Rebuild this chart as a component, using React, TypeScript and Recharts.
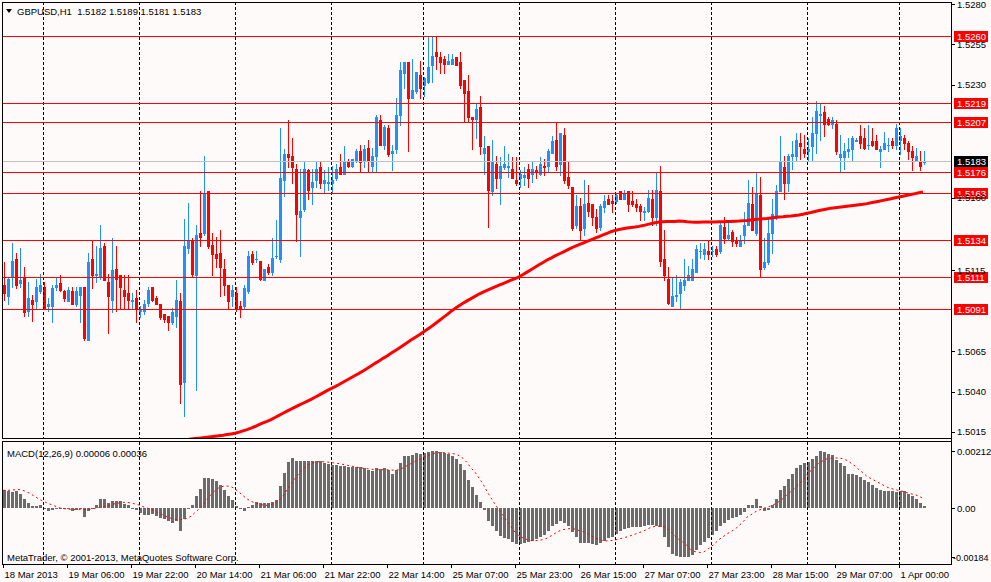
import { ComposedChart, Bar, Line, XAxis, YAxis, ReferenceLine } from "recharts";

const W = 991;
const BULL = "#1e90ff";
const BEAR = "#ff0000";
const BG = "#fffafa";
const HIST = "#6b6b6b";
const FONT = '"Liberation Sans", Arial, sans-serif';
const FS = 9.5;

// GBPUSD H1, 18 Mar 14:00 .. 1 Apr 06:00, prices in pips above 1.5000
const BASE = 1.5;
const PIP = 0.0001;

const opens = [
  106, 99, 111, 122, 107, 111, 90, 97, 96, 102,
  105, 93, 93, 105, 107, 102, 96, 102, 94, 100,
  105, 72, 122, 112, 111, 130, 108, 97, 116, 112,
  103, 101, 96, 98, 90, 90, 95, 105, 98, 94,
  88, 87, 83, 87, 96, 46, 129, 134, 112, 138,
  138, 164, 131, 125, 126, 116, 106, 99, 101, 93,
  93, 102, 125, 122, 121, 109, 117, 114, 124, 122,
  171, 187, 186, 178, 148, 153, 177, 167, 171, 179,
  169, 169, 169, 172, 179, 175, 182, 180, 183, 189,
  183, 191, 180, 186, 208, 193, 203, 188, 190, 211,
  237, 244, 222, 226, 236, 230, 232, 242, 250, 247,
  246, 243, 243, 247, 244, 233, 226, 210, 209, 216,
  188, 192, 164, 181, 172, 179, 179, 178, 171, 172,
  173, 178, 175, 177, 175, 180, 180, 188, 196, 181,
  199, 173, 167, 143, 155, 141, 157, 156, 148, 142,
  154, 159, 158, 158, 164, 159, 164, 158, 156, 155,
  151, 152, 159, 148, 164, 122, 110, 93, 99, 101,
  106, 109, 109, 114, 127, 125, 127, 127, 128, 127,
  142, 135, 139, 134, 130, 137, 143, 156, 138, 162,
  117, 120, 138, 148, 164, 179, 169, 186, 186, 194,
  190, 189, 192, 200, 211, 213, 209, 206, 206, 185,
  185, 189, 190, 195, 198, 197, 193, 195, 195, 189,
  190, 193, 195, 193, 196, 197, 194, 189, 183, 183,
  182,
];
const highs = [
  120, 111, 132, 126, 129, 117, 108, 100, 110, 113,
  108, 98, 106, 111, 112, 103, 105, 105, 105, 105,
  105, 126, 134, 130, 143, 132, 113, 135, 130, 112,
  112, 112, 101, 103, 93, 97, 105, 105, 99, 94,
  88, 87, 92, 109, 101, 147, 157, 135, 143, 164,
  186, 164, 138, 136, 140, 122, 106, 106, 105, 96,
  106, 127, 127, 127, 121, 116, 119, 135, 146, 203,
  190, 208, 197, 181, 178, 183, 178, 178, 183, 182,
  177, 179, 180, 181, 187, 192, 184, 184, 190, 193,
  193, 196, 191, 211, 211, 205, 205, 193, 222, 244,
  244, 244, 246, 238, 245, 235, 260, 260, 260, 250,
  248, 249, 249, 247, 250, 233, 236, 210, 218, 223,
  198, 192, 196, 186, 185, 192, 187, 185, 185, 177,
  179, 181, 182, 180, 185, 184, 190, 198, 207, 200,
  203, 182, 167, 162, 160, 171, 168, 156, 153, 156,
  162, 162, 162, 163, 164, 165, 164, 164, 159, 156,
  154, 165, 165, 176, 180, 140, 117, 111, 112, 110,
  122, 118, 122, 131, 132, 132, 134, 130, 130, 145,
  148, 145, 140, 136, 137, 151, 171, 167, 176, 173,
  135, 148, 159, 168, 198, 186, 187, 195, 200, 200,
  199, 197, 210, 220, 218, 217, 210, 210, 208, 199,
  194, 197, 198, 197, 205, 203, 205, 203, 199, 192,
  201, 197, 197, 206, 203, 199, 195, 192, 191, 189,
  189,
];
const lows = [
  97, 94, 105, 104, 105, 87, 87, 84, 92, 101,
  91, 90, 83, 103, 102, 96, 96, 94, 93, 83,
  72, 72, 104, 108, 110, 109, 76, 89, 90, 91,
  91, 91, 91, 83, 86, 88, 93, 96, 94, 85,
  83, 78, 82, 80, 33, 25, 126, 111, 41, 130,
  137, 129, 112, 117, 99, 100, 91, 93, 90, 86,
  91, 101, 119, 120, 109, 109, 113, 112, 123, 120,
  161, 179, 169, 133, 124, 152, 159, 156, 167, 166,
  163, 165, 163, 171, 175, 175, 179, 179, 182, 176,
  179, 176, 176, 176, 193, 190, 186, 177, 188, 205,
  228, 189, 222, 225, 222, 223, 231, 232, 240, 237,
  237, 243, 243, 242, 228, 207, 207, 190, 197, 187,
  175, 142, 162, 166, 156, 178, 173, 172, 168, 167,
  168, 167, 170, 172, 174, 174, 176, 188, 177, 174,
  169, 166, 140, 141, 134, 137, 149, 143, 139, 140,
  151, 156, 151, 157, 159, 159, 152, 155, 152, 146,
  146, 151, 143, 143, 118, 109, 94, 93, 96, 91,
  103, 109, 109, 114, 123, 122, 122, 124, 124, 126,
  132, 134, 130, 130, 130, 132, 143, 140, 137, 111,
  116, 119, 126, 147, 164, 159, 164, 178, 183, 184,
  185, 183, 183, 188, 196, 198, 205, 203, 187, 176,
  178, 185, 183, 195, 191, 190, 190, 192, 190, 179,
  190, 189, 191, 190, 187, 190, 184, 177, 183, 177,
  181,
];
const closes = [
  101, 110, 121, 106, 109, 89, 98, 94, 105, 106,
  92, 94, 104, 106, 103, 98, 103, 94, 102, 105,
  73, 120, 112, 113, 129, 109, 99, 115, 110, 105,
  99, 97, 97, 92, 91, 94, 103, 97, 94, 86,
  85, 83, 89, 97, 45, 130, 134, 113, 137, 136,
  163, 130, 125, 123, 117, 106, 96, 103, 91, 91,
  104, 124, 120, 122, 110, 116, 114, 123, 124, 172,
  187, 185, 179, 150, 152, 178, 165, 170, 178, 169,
  171, 170, 171, 178, 175, 183, 180, 184, 189, 182,
  190, 183, 186, 210, 193, 204, 187, 189, 211, 239,
  244, 222, 227, 238, 228, 234, 241, 248, 248, 244,
  243, 245, 246, 242, 230, 225, 210, 209, 215, 192,
  191, 165, 182, 172, 180, 181, 180, 172, 169, 175,
  174, 172, 178, 176, 181, 179, 189, 195, 180, 200,
  171, 168, 141, 155, 140, 156, 152, 148, 141, 155,
  158, 156, 157, 162, 159, 163, 156, 156, 154, 152,
  152, 160, 148, 165, 121, 112, 95, 99, 100, 108,
  109, 112, 116, 128, 127, 128, 125, 127, 125, 143,
  135, 137, 133, 132, 134, 143, 157, 140, 163, 116,
  120, 138, 150, 164, 182, 169, 186, 187, 196, 192,
  188, 190, 200, 214, 212, 206, 206, 208, 189, 187,
  189, 190, 197, 196, 194, 191, 193, 193, 190, 190,
  194, 193, 193, 203, 198, 194, 189, 185, 186, 180,
  183,
];

// moving average, visible from bar 46 on (pips above 1.5000)
const maStart = 46;
const maValues = [
  10.3, 10.6, 10.9, 11.2, 11.5, 11.8, 12.1, 12.4, 12.7, 13.0,
  13.4, 13.8, 14.2, 14.9, 15.7, 16.5, 17.4, 18.4, 19.5, 20.6,
  21.6, 22.7, 24.0, 25.3, 26.6, 27.9, 29.2, 30.4, 31.6, 32.8,
  34.0, 35.2, 36.5, 37.8, 39.2, 40.6, 41.9, 43.1, 44.4, 45.8,
  47.2, 48.6, 50.0, 51.3, 52.8, 54.3, 55.9, 57.5, 59.0, 60.6,
  62.1, 63.7, 65.3, 66.9, 68.6, 70.3, 71.9, 73.5, 75.1, 76.8,
  78.5, 80.2, 82.0, 83.9, 85.8, 87.7, 89.7, 91.5, 93.1, 94.7,
  96.2, 97.6, 99.0, 100.4, 101.6, 102.7, 103.8, 104.8, 105.9, 106.9,
  108.0, 109.0, 110.0, 111.0, 112.5, 114.0, 115.5, 117.0, 118.5, 120.0,
  121.5, 122.7, 124.0, 125.2, 126.4, 127.6, 128.8, 130.0, 131.0, 132.0,
  133.0, 134.0, 135.0, 136.0, 137.0, 138.0, 139.0, 139.8, 140.4, 140.9,
  141.3, 141.6, 141.9, 142.3, 142.8, 143.4, 144.0, 144.6, 145.0, 145.2,
  145.3, 145.3, 145.4, 145.6, 145.5, 145.2, 145.0, 144.9, 144.9, 145.0,
  145.0, 145.0, 145.0, 145.1, 145.2, 145.3, 145.4, 145.5, 145.6, 145.8,
  146.0, 146.3, 146.6, 146.8, 147.0, 147.2, 147.5, 147.8, 148.1, 148.3,
  148.6, 148.8, 149.1, 149.3, 149.8, 150.4, 150.9, 151.5, 152.1, 152.6,
  153.1, 153.6, 153.9, 154.2, 154.5, 154.8, 155.1, 155.4, 155.7, 156.0,
  156.4, 156.9, 157.4, 157.9, 158.4, 158.9, 159.4, 160.0, 160.5, 161.0,
  161.6, 162.1, 162.6, 163.1, 163.6,
];

// MACD(12,26,9), in units of 0.00001
const macdMain = [
  66, 62, 60, 65, 52, 34, 17, 6, 6, 10,
  -1, -10, -6, -4, -1, -2, -2, -12, -6, -2,
  -34, -10, 1, 10, 34, 34, 19, 25, 27, 25,
  15, 12, -1, -6, -19, -27, -25, -22, -29, -37,
  -41, -47, -56, -47, -85, -41, -1, 12, 46, 71,
  112, 112, 110, 102, 87, 69, 46, 29, 6, -2,
  -12, 4, 12, 22, 19, 19, 19, 21, 31, 81,
  131, 172, 187, 177, 175, 177, 177, 177, 175, 175,
  168, 166, 160, 160, 156, 156, 153, 153, 153, 153,
  150, 141, 137, 150, 147, 150, 141, 128, 141, 168,
  193, 193, 200, 206, 202, 206, 208, 214, 214, 210,
  206, 202, 193, 183, 165, 141, 106, 77, 50, 22,
  -6, -50, -69, -87, -104, -112, -116, -127, -135, -135,
  -131, -127, -122, -116, -108, -102, -85, -69, -60, -47,
  -56, -69, -91, -108, -131, -131, -131, -135, -140, -131,
  -122, -112, -108, -97, -87, -77, -75, -72, -72, -72,
  -69, -65, -65, -66, -72, -110, -147, -171, -180, -184,
  -183, -182, -175, -156, -140, -127, -112, -100, -85, -69,
  -56, -44, -37, -34, -27, -15, 12, 12, 34, 6,
  -10, -6, 12, 34, 69, 84, 110, 127, 150, 162,
  168, 172, 185, 193, 212, 210, 203, 197, 181, 168,
  156, 127, 127, 122, 115, 106, 96, 87, 75, 69,
  65, 62, 62, 60, 62, 62, 52, 44, 34, 19,
  6,
];
const macdSignal = [
  66, 66, 67, 68, 69, 66, 60, 52, 43, 33,
  26, 19, 13, 7, 1, -2, -4, -5, -6, -6,
  -7, -6, -4, -1, 2, 5, 8, 12, 16, 19,
  21, 21, 19, 15, 11, 5, 0, -5, -11, -19,
  -26, -33, -38, -42, -44, -43, -39, -31, -17, -4,
  10, 32, 50, 65, 76, 81, 82, 80, 71, 60,
  46, 34, 25, 19, 14, 11, 10, 12, 18, 28,
  45, 68, 90, 110, 130, 146, 158, 166, 171, 173,
  173, 172, 170, 168, 166, 163, 160, 157, 154, 151,
  149, 147, 145, 144, 143, 143, 143, 142, 141, 143,
  150, 158, 166, 174, 181, 188, 195, 201, 205, 207,
  207, 206, 204, 202, 196, 186, 170, 150, 134, 112,
  90, 62, 38, 14, -8, -27, -50, -70, -90, -104,
  -112, -118, -122, -122, -121, -118, -113, -104, -95, -86,
  -81, -78, -77, -79, -84, -88, -96, -104, -112, -118,
  -122, -123, -122, -120, -116, -112, -108, -103, -98, -92,
  -87, -80, -72, -69, -68, -69, -75, -90, -105, -118,
  -128, -140, -156, -163, -166, -166, -156, -145, -132, -118,
  -108, -97, -88, -79, -66, -52, -34, -25, -15, -8,
  -2, 3, 8, 15, 24, 35, 50, 62, 75, 88,
  105, 125, 140, 155, 168, 177, 184, 186, 187, 187,
  184, 178, 168, 157, 143, 132, 118, 110, 102, 94,
  86, 78, 73, 69, 65, 62, 57, 53, 50, 44,
  36,
];

const timeLabels = [
  "18 Mar 2013", "19 Mar 06:00", "19 Mar 22:00", "20 Mar 14:00", "21 Mar 06:00",
  "21 Mar 22:00", "22 Mar 14:00", "25 Mar 07:00", "25 Mar 23:00", "26 Mar 15:00",
  "27 Mar 07:00", "27 Mar 23:00", "28 Mar 15:00", "29 Mar 07:00", "1 Apr 00:00",
];
const LABEL_STEP = 16;
const dayStarts = [10, 34, 58, 82, 105, 129, 153, 177, 201, 224];
// scale labels not hidden behind the price tags
const priceTicks = [1.528, 1.5255, 1.523, 1.516, 1.5115, 1.5065, 1.504, 1.5015];
const macdTicks = [0.00212, 0, -0.00184];
const levels = [1.526, 1.5219, 1.5207, 1.5176, 1.5163, 1.5134, 1.5111, 1.5091];
const lastPrice = 1.5183;

const priceRows = opens.map((o, i) => ({
  idx: i,
  open: BASE + o * PIP,
  high: BASE + highs[i] * PIP,
  low: BASE + lows[i] * PIP,
  close: BASE + closes[i] * PIP,
  range: [BASE + lows[i] * PIP, BASE + highs[i] * PIP],
  ma: i >= maStart ? BASE + maValues[i - maStart] * PIP : null,
}));
const macdRows = macdMain.map((m, i) => ({
  idx: i,
  macd: m * 1e-5,
  signal: macdSignal[i] * 1e-5,
}));
const labelTicks = timeLabels.map((_, k) => k * LABEL_STEP);

function Candle(props: any) {
  const { x, y, width, height, payload } = props;
  if (!payload || height == null) return null;
  const { open, close, high, low } = payload;
  const top = Math.min(y, y + height);
  const h = Math.abs(height);
  const k = high > low ? h / (high - low) : 0;
  const cx = Math.round(x + width / 2);
  const y0 = Math.round(top);
  const y1 = Math.round(top + h);
  const b0 = Math.round(top + (high - Math.max(open, close)) * k);
  const b1 = Math.round(top + (high - Math.min(open, close)) * k);
  const fill = close >= open ? BULL : BEAR;
  return (
    <g>
      <rect x={cx} y={y0} width={1} height={Math.max(1, y1 - y0 + 1)} fill={fill} />
      <rect x={cx - 1} y={b0} width={3} height={Math.max(1, b1 - b0 + 1)} fill={fill} />
    </g>
  );
}

function HistBar(props: any) {
  const { x, y, width, height } = props;
  if (height == null) return null;
  const cx = Math.round(x + width / 2);
  const y0 = Math.round(Math.min(y, y + height));
  const y1 = Math.round(Math.max(y, y + height));
  return <rect x={cx - 1} y={y0} width={3} height={Math.max(1, y1 - y0)} fill={HIST} />;
}

const dashShape = (p: any) => {
  const xx = Math.round(p.x1) + 0.5;
  return (
    <line x1={xx} x2={xx} y1={Math.min(p.y1, p.y2)} y2={Math.max(p.y1, p.y2)}
      stroke="#000" strokeWidth={1} strokeDasharray="3 2" />
  );
};

const levelShape = (text: string, lineColor: string, boxColor: string) => (p: any) => {
  const xl = Math.min(p.x1, p.x2);
  const xr = Math.max(p.x1, p.x2);
  const yy = Math.round(p.y1);
  return (
    <g>
      <rect x={xl + 1} y={yy} width={xr - xl - 1} height={1} fill={lineColor} />
      <rect x={xr + 3} y={yy - 5} width={34} height={11} fill={boxColor} />
      <text x={xr + 6} y={yy + 4} fill="#fff" fontSize={FS} fontFamily={FONT}>{text}</text>
    </g>
  );
};

const PriceTick = (p: any) => {
  const yy = Math.round(p.y) + 0.5;
  return (
    <g>
      <line x1={p.x - 5} x2={p.x - 2} y1={yy} y2={yy} stroke="#000" />
      <text x={p.x} y={p.y + 3.5} fontSize={FS} fontFamily={FONT} fill="#000" textAnchor="start">
        {Number(p.payload.value).toFixed(4)}
      </text>
    </g>
  );
};

const MacdTick = (p: any) => {
  const v = Number(p.payload.value);
  const yy = Math.round(p.y) + 0.5;
  return (
    <g>
      <line x1={p.x - 5} x2={p.x - 2} y1={yy} y2={yy} stroke="#000" />
      <text x={v < 0 ? p.x - 4 : p.x} y={p.y + 3.5} fontSize={v < 0 ? 9 : FS} fontFamily={FONT} fill="#000" textAnchor="start">
        {v === 0 ? "0.00" : v.toFixed(5)}
      </text>
    </g>
  );
};

const TimeTick = (p: any) => {
  const xx = Math.round(p.x) + 0.5;
  const label = timeLabels[Math.round(Number(p.payload.value) / LABEL_STEP)];
  return (
    <g>
      <line x1={xx} x2={xx} y1={p.y - 6} y2={p.y - 2} stroke="#000" />
      <text x={p.x + 1.5} y={p.y + 7.7} fontSize={FS} fontFamily={FONT} fill="#000" textAnchor="start">
        {label}
      </text>
    </g>
  );
};

const line = (left: number, top: number, width: number, height: number) => (
  <div style={{ position: "absolute", left, top, width, height, background: "#000" }} />
);

const textStyle = {
  position: "absolute" as const,
  fontFamily: FONT,
  fontSize: FS,
  lineHeight: "11px",
  color: "#000",
  whiteSpace: "pre" as const,
};

export default function App() {
  return (
    <div style={{ position: "absolute", left: 0, top: 0, width: W, height: 582, background: BG, overflow: "hidden" }}>
      <div style={{ position: "absolute", left: 0, top: 0 }}>
        <ComposedChart width={W} height={440} data={priceRows} margin={{ top: 2, right: 0, bottom: 2, left: 1 }}>
          <XAxis dataKey="idx" type="category" hide padding={{ left: 0, right: 26 }} />
          <YAxis
            orientation="right"
            width={40}
            type="number"
            domain={[1.501128, 1.528124]}
            allowDataOverflow
            ticks={priceTicks}
            interval={0}
            axisLine={false}
            tickLine={false}
            tickSize={4}
            tickMargin={2}
            tick={<PriceTick />}
          />
          {dayStarts.map((d) => (
            <ReferenceLine key={"d" + d} x={d} shape={dashShape} />
          ))}
          <Bar dataKey="range" barSize={3} shape={<Candle />} isAnimationActive={false} />
          <Line dataKey="ma" type="linear" stroke="#ff0000" strokeWidth={3} dot={false}
            activeDot={false} isAnimationActive={false} />
          <ReferenceLine y={lastPrice} shape={levelShape(lastPrice.toFixed(4), "#c0c0c0", "#000")} />
          {levels.map((lv) => (
            <ReferenceLine key={"l" + lv} y={lv} shape={levelShape(lv.toFixed(4), "#ff0000", "#ff0000")} />
          ))}
        </ComposedChart>
      </div>
      <div style={{ position: "absolute", left: 0, top: 440 }}>
        <ComposedChart width={W} height={142} data={macdRows} margin={{ top: 2, right: 0, bottom: 0, left: 1 }}>
          <XAxis
            dataKey="idx"
            type="category"
            height={18}
            padding={{ left: 0, right: 26 }}
            ticks={labelTicks}
            interval={0}
            axisLine={false}
            tickLine={false}
            tickSize={4}
            tickMargin={2}
            tick={<TimeTick />}
          />
          <YAxis
            orientation="right"
            width={40}
            type="number"
            domain={[-0.0020938, 0.0024677]}
            allowDataOverflow
            ticks={macdTicks}
            interval={0}
            axisLine={false}
            tickLine={false}
            tickSize={4}
            tickMargin={2}
            tick={<MacdTick />}
          />
          {dayStarts.map((d) => (
            <ReferenceLine key={"m" + d} x={d} shape={dashShape} />
          ))}
          <Bar dataKey="macd" barSize={3} shape={<HistBar />} isAnimationActive={false} />
          <Line dataKey="signal" type="linear" stroke="#ff0000" strokeWidth={1} strokeDasharray="2 3"
            dot={false} activeDot={false} isAnimationActive={false} />
        </ComposedChart>
      </div>

      {line(2, 2, 950, 1)}
      {line(951, 2, 1, 563)}
      {line(2, 2, 1, 437)}
      {line(2, 438, 950, 1)}
      {line(2, 441, 950, 1)}
      {line(2, 441, 1, 124)}
      {line(2, 564, 950, 1)}

      <div style={{ position: "absolute", left: 6, top: 9, width: 0, height: 0,
        borderLeft: "3px solid transparent", borderRight: "3px solid transparent", borderTop: "4px solid #000" }} />
      <div style={{ ...textStyle, left: 17, top: 6 }}>GBPUSD,H1  1.5182 1.5189 1.5181 1.5183</div>
      <div style={{ ...textStyle, left: 7, top: 448 }}>MACD(12,26,9) 0.00006 0.00036</div>
      <div style={{ ...textStyle, left: 7, top: 552 }}>MetaTrader, © 2001-2013, MetaQuotes Software Corp.</div>
    </div>
  );
}
